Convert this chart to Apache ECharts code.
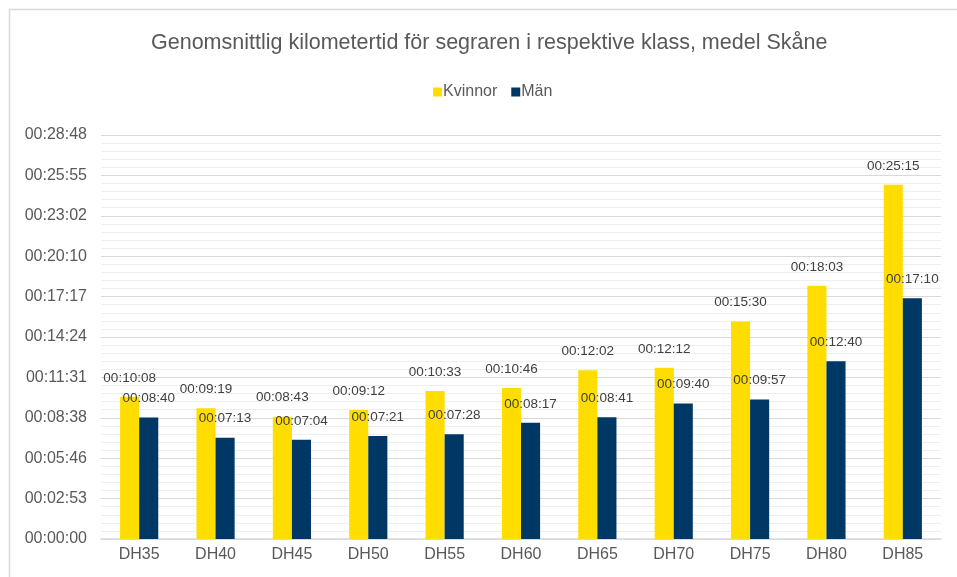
<!DOCTYPE html>
<html>
<head>
<meta charset="utf-8">
<script src="https://cdn.jsdelivr.net/npm/echarts@6/dist/echarts.min.js"></script>
<style>html,body{margin:0;padding:0;background:#fff}#c{width:957px;height:577px}</style>
</head>
<body>
<div id="c"></div>
<script>
// Data (values in seconds)
const categories = ["DH35","DH40","DH45","DH50","DH55","DH60","DH65","DH70","DH75","DH80","DH85"];
const kvinnor = [608, 559, 523, 552, 633, 646, 722, 732, 930, 1083, 1515]; // 00:10:08 ... 00:25:15
const man = [520, 433, 424, 441, 448, 497, 521, 580, 597, 760, 1030];      // 00:08:40 ... 00:17:10
const seriesNames = ["Kvinnor", "Män"];
const titleText = "Genomsnittlig kilometertid för segraren i respektive klass, medel Skåne";
const yMax = 1728;      // 00:28:48
const yInterval = 172.8; // 00:02:53

function fmt(sec) {
  const s = Math.round(sec);
  const h = Math.floor(s / 3600);
  const m = Math.floor((s % 3600) / 60);
  const ss = s % 60;
  const p = n => String(n).padStart(2, "0");
  return p(h) + ":" + p(m) + ":" + p(ss);
}

const chart = echarts.init(document.getElementById("c"), null, {renderer: "canvas"});
const font = "Liberation Sans, Arial, sans-serif";
const labelStyle = {
  show: true, position: "top", distance: 12,
  color: "#404040", fontSize: 13.5, fontFamily: font,
  formatter: p => fmt(p.value)
};
chart.setOption({
  animation: false,
  backgroundColor: "#fff",
  graphic: [{
    type: "rect", left: 7, top: 7, shape: {width: 960, height: 580},
    style: {fill: "none", stroke: "#d9d9d9", lineWidth: 1.5}, silent: true
  }],
  title: {
    text: titleText, left: 151, top: 32, padding: 0,
    textStyle: {color: "#595959", fontSize: 21.5, fontWeight: "normal", fontFamily: font}
  },
  legend: {
    top: 79, left: 428, itemWidth: 9, itemHeight: 9, itemGap: 14,
    icon: "rect",
    textStyle: {color: "#595959", fontSize: 16, fontFamily: font, padding: [0, 0, 0, -4]},
    data: seriesNames
  },
  grid: {left: 101, right: 16, top: 135, bottom: 38},
  xAxis: {
    type: "category", data: categories,
    axisTick: {show: false},
    axisLine: {lineStyle: {color: "#d9d9d9", width: 1.5}},
    axisLabel: {color: "#595959", fontSize: 16, fontFamily: font, margin: 8}
  },
  yAxis: {
    type: "value", min: 0, max: yMax, interval: yInterval,
    axisLine: {show: false}, axisTick: {show: false},
    axisLabel: {color: "#595959", fontSize: 16, fontFamily: font, margin: 14, formatter: v => fmt(v)},
    splitLine: {lineStyle: {color: "#d9d9d9", width: 1.2}},
    minorTick: {show: false, splitNumber: 5},
    minorSplitLine: {show: true, lineStyle: {color: "#eeeeee", width: 1}}
  },
  series: [
    {
      name: seriesNames[0], type: "bar", data: kvinnor,
      barGap: "0%", barCategoryGap: "50%",
      itemStyle: {color: "#FFDD00"},
      label: labelStyle
    },
    {
      name: seriesNames[1], type: "bar", data: man,
      itemStyle: {color: "#003865"},
      label: labelStyle
    }
  ]
});
</script>
</body>
</html>
